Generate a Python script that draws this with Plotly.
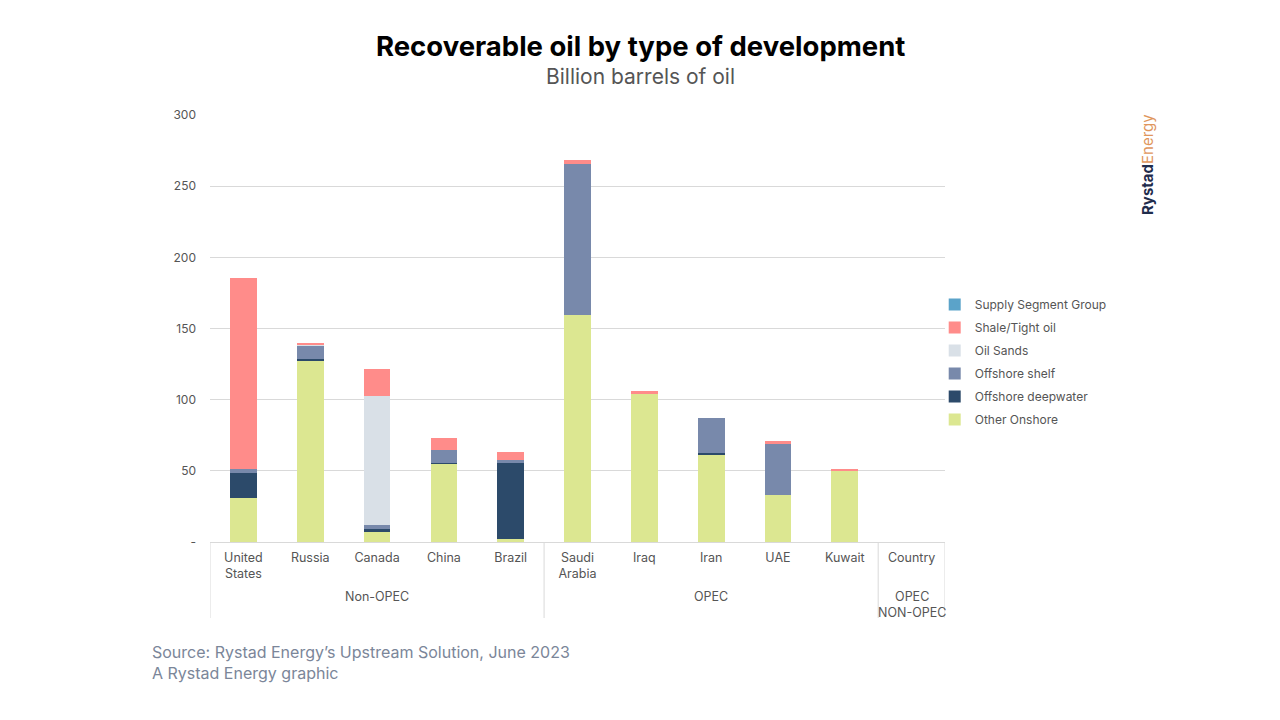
import plotly.graph_objects as go

countries = ["United<br>States", "Russia", "Canada", "China", "Brazil",
             "Saudi<br>Arabia", "Iraq", "Iran", "UAE", "Kuwait", "Country"]
group_names = ["Non-OPEC", "OPEC", "OPEC<br>NON-OPEC"]
group_sizes = [5, 5, 1]

other_onshore = [31.0, 127.4, 7.0, 55.0, 2.3, 159.7, 104.2, 61.4, 33.3, 50.2, 0]
offshore_deepwater = [17.6, 1.4, 2.1, 0.7, 53.9, 0, 0, 1.1, 0, 0, 0]
offshore_shelf = [2.6, 9.6, 2.8, 8.9, 1.4, 105.9, 0, 24.9, 35.6, 0, 0]
oil_sands = [0, 0.7, 90.7, 0, 0, 0, 0, 0, 0, 0, 0]
shale_tight = [134.2, 0.7, 19.0, 8.5, 5.6, 2.6, 2.1, 0, 2.1, 0.6, 0]
supply_segment_group = [0] * 11

series = [
    ("Other Onshore", other_onshore, "#dce791"),
    ("Offshore deepwater", offshore_deepwater, "#2c4a6a"),
    ("Offshore shelf", offshore_shelf, "#7889ab"),
    ("Oil Sands", oil_sands, "#d9e0e7"),
    ("Shale/Tight oil", shale_tight, "#ff8c8a"),
    ("Supply Segment Group", supply_segment_group, "#5ba3c9"),
]

y_tickvals = [0, 50, 100, 150, 200, 250, 300]
y_ticktext = ["-", "50", "100", "150", "200", "250", "300"]

fig = go.Figure()
n = len(series)
for i, (name, vals, color) in enumerate(series):
    fig.add_trace(go.Bar(x=countries, y=vals, name=name, legendgroup=name, legendrank=n - i,
                         marker=dict(color=color, line=dict(width=0))))

font_family = "Inter, Liberation Sans, sans-serif"
fig.update_layout(
    width=1280, height=720,
    barmode="stack", bargap=0.6,
    paper_bgcolor="white", plot_bgcolor="white",
    margin=dict(l=202, r=343, t=107, b=186),
    font=dict(family=font_family, size=12, color="#555555"),
    showlegend=True,
    legend=dict(traceorder="grouped", x=0.986, xanchor="left", y=0.4215, yanchor="middle",
                font=dict(size=12, color="#555555"), itemwidth=30, tracegroupgap=4,
                bgcolor="rgba(0,0,0,0)"),
    xaxis=dict(type="category", showline=True, linecolor="#d9d9d9", linewidth=1,
               range=[-0.5, len(countries) - 0.5],
               tickfont=dict(size=12.5, color="#555555"),
               ticks="", ticklabelstandoff=4),
    yaxis=dict(range=[0, 300], tickvals=y_tickvals, ticktext=y_ticktext,
               showgrid=True, gridcolor="#d9d9d9", gridwidth=1, zeroline=False,
               tickfont=dict(size=12, color="#555555"), ticklabelstandoff=13),
)

# group labels and dividers below the category axis
div_depth = 76 / 427
start = 0
bounds = [-0.5]
for gname, gsize in zip(group_names, group_sizes):
    center = start + (gsize - 1) / 2
    fig.add_annotation(text=gname, xref="x", yref="paper", x=center, y=0,
                       xanchor="center", yanchor="top", yshift=-45, showarrow=False,
                       font=dict(size=12.5, color="#555555", family=font_family))
    start += gsize
    bounds.append(start - 0.5)
for b in bounds:
    fig.add_shape(type="line", xref="x", yref="paper", x0=b, x1=b, y0=0, y1=-div_depth,
                  line=dict(color="#d9d9d9", width=1))

fig.add_annotation(text="<b>Recoverable oil by type of development</b>", xref="paper", yref="paper",
                   x=(640 - 210) / 735, y=1.0, xanchor="center", yanchor="bottom", yshift=50,
                   showarrow=False, font=dict(size=27.5, color="#000000", family=font_family))
fig.add_annotation(text="Billion barrels of oil", xref="paper", yref="paper",
                   x=(640 - 210) / 735, y=1.0, xanchor="center", yanchor="bottom", yshift=24,
                   showarrow=False, font=dict(size=21, color="#555555", family=font_family))
fig.add_annotation(text="Source: Rystad Energy’s Upstream Solution, June 2023<br>A Rystad Energy graphic",
                   xref="paper", yref="paper", x=-60/735, y=0, xanchor="left", yanchor="top",
                   yshift=-98, showarrow=False, align="left",
                   font=dict(size=16, color="#7b8699", family=font_family))
fig.add_annotation(text="<b>Rystad</b><span style='color:#e0965c'>Energy</span>",
                   xref="paper", yref="paper", x=(1147 - 210) / 735, y=(542 - 165) / 427,
                   xanchor="center", yanchor="middle", textangle=-90, showarrow=False,
                   font=dict(size=15, color="#1f2c4c", family=font_family))

fig.write_html("out.html")
